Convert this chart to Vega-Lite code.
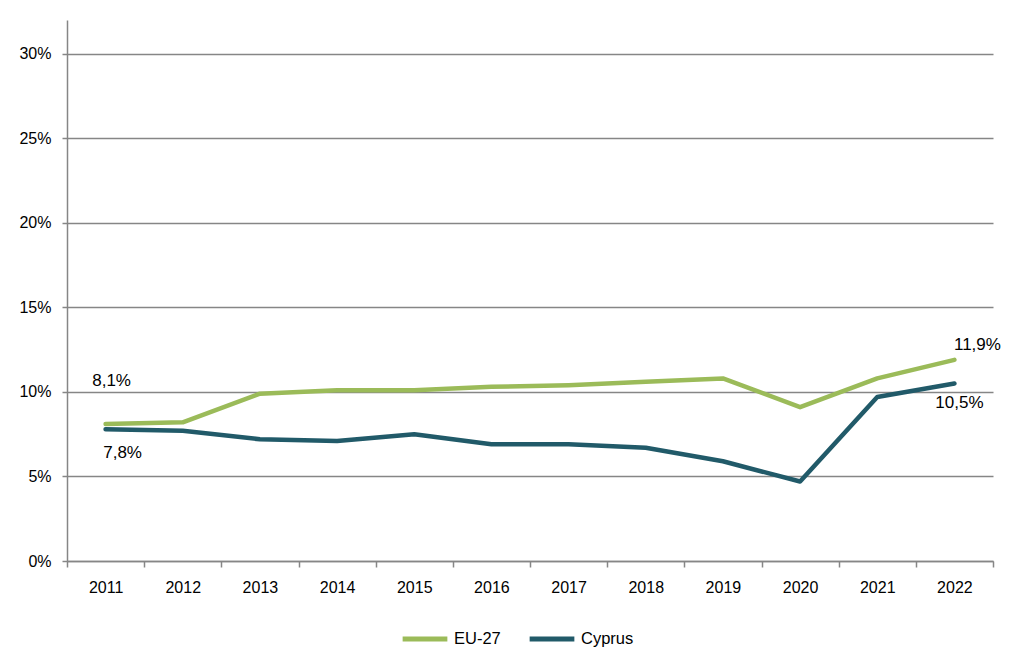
{
  "$schema": "https://vega.github.io/schema/vega-lite/v6.json",
  "autosize": {"type": "none"},
  "width": 926,
  "height": 541,
  "padding": {"left": 67, "top": 20, "right": 25, "bottom": 109},
  "background": "white",
  "config": {
    "locale": {"number": {"decimal": ",", "thousands": ".", "grouping": [3], "currency": ["", " €"]}},
    "font": "Liberation Sans",
    "view": {"stroke": null},
    "axis": {"labelFont": "Liberation Sans", "labelFontSize": 16, "labelColor": "#000000", "domainColor": "#868686", "tickColor": "#868686", "gridColor": "#868686", "domainWidth": 1.5, "tickWidth": 1.5, "gridWidth": 1.3}
  },
  "data": {
    "values": [
      {"year": "2011", "series": "EU-27", "value": 0.081},
      {"year": "2012", "series": "EU-27", "value": 0.082},
      {"year": "2013", "series": "EU-27", "value": 0.099},
      {"year": "2014", "series": "EU-27", "value": 0.101},
      {"year": "2015", "series": "EU-27", "value": 0.101},
      {"year": "2016", "series": "EU-27", "value": 0.103},
      {"year": "2017", "series": "EU-27", "value": 0.104},
      {"year": "2018", "series": "EU-27", "value": 0.106},
      {"year": "2019", "series": "EU-27", "value": 0.108},
      {"year": "2020", "series": "EU-27", "value": 0.091},
      {"year": "2021", "series": "EU-27", "value": 0.108},
      {"year": "2022", "series": "EU-27", "value": 0.119},
      {"year": "2011", "series": "Cyprus", "value": 0.078},
      {"year": "2012", "series": "Cyprus", "value": 0.077},
      {"year": "2013", "series": "Cyprus", "value": 0.072},
      {"year": "2014", "series": "Cyprus", "value": 0.071},
      {"year": "2015", "series": "Cyprus", "value": 0.075},
      {"year": "2016", "series": "Cyprus", "value": 0.069},
      {"year": "2017", "series": "Cyprus", "value": 0.069},
      {"year": "2018", "series": "Cyprus", "value": 0.067},
      {"year": "2019", "series": "Cyprus", "value": 0.059},
      {"year": "2020", "series": "Cyprus", "value": 0.047},
      {"year": "2021", "series": "Cyprus", "value": 0.097},
      {"year": "2022", "series": "Cyprus", "value": 0.105}
    ]
  },
  "encoding": {
    "x": {
      "field": "year", "type": "ordinal", "bandPosition": 0.5,
      "scale": {"type": "band", "paddingInner": 0, "paddingOuter": 0},
      "axis": {"title": null, "labelAngle": 0, "tickBand": "extent", "tickSize": 6, "labelPadding": 12, "grid": false}
    },
    "y": {
      "field": "value", "type": "quantitative",
      "scale": {"domain": [0, 0.32], "nice": false},
      "axis": {"title": null, "format": ".0%", "values": [0, 0.05, 0.1, 0.15, 0.2, 0.25, 0.3], "tickSize": 5, "labelPadding": 11, "grid": true}
    }
  },
  "layer": [
    {
      "mark": {"type": "line", "strokeWidth": 4.5, "strokeCap": "round", "strokeJoin": "round"},
      "encoding": {
        "color": {
          "field": "series", "type": "nominal",
          "scale": {"domain": ["EU-27", "Cyprus"], "range": ["#9BBB59", "#215A69"]},
          "legend": {
            "title": null, "orient": "none", "direction": "horizontal",
            "legendX": 333, "legendY": 594,
            "symbolType": "stroke", "symbolSize": 2000, "symbolStrokeWidth": 5,
            "labelFont": "Liberation Sans", "labelFontSize": 16.5, "labelColor": "#000000",
            "labelOffset": 4, "columnPadding": 18
          }
        }
      }
    },
    {
      "transform": [{"filter": "datum.series === 'EU-27' && datum.year === '2011'"}],
      "mark": {"type": "text", "dx": 6, "dy": -43, "fontSize": 17, "color": "#000000"},
      "encoding": {"text": {"field": "value", "type": "quantitative", "format": ".1%"}}
    },
    {
      "transform": [{"filter": "datum.series === 'Cyprus' && datum.year === '2011'"}],
      "mark": {"type": "text", "dx": 17, "dy": 24, "fontSize": 17, "color": "#000000"},
      "encoding": {"text": {"field": "value", "type": "quantitative", "format": ".1%"}}
    },
    {
      "transform": [{"filter": "datum.series === 'EU-27' && datum.year === '2022'"}],
      "mark": {"type": "text", "dx": 23, "dy": -15, "fontSize": 17, "color": "#000000"},
      "encoding": {"text": {"field": "value", "type": "quantitative", "format": ".1%"}}
    },
    {
      "transform": [{"filter": "datum.series === 'Cyprus' && datum.year === '2022'"}],
      "mark": {"type": "text", "dx": 5, "dy": 20, "fontSize": 17, "color": "#000000"},
      "encoding": {"text": {"field": "value", "type": "quantitative", "format": ".1%"}}
    }
  ]
}
